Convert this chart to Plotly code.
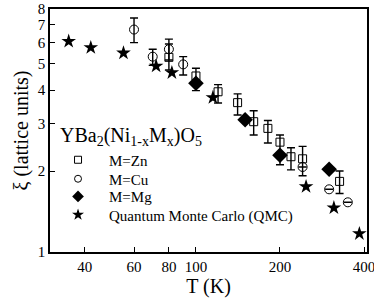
import plotly.graph_objects as go
import math

# ---- data ----
zn_T = [80, 100, 120, 141, 161, 181, 200, 219, 241, 327]
zn_xi = [5.29, 4.51, 3.94, 3.59, 3.05, 2.88, 2.56, 2.26, 2.22, 1.83]
zn_err_plus = [0.64, 0.31, 0.25, 0.28, 0.30, 0.20, 0.16, 0.18, 0.25, 0.17]
zn_err_minus = [0.54, 0.53, 0.36, 0.36, 0.33, 0.34, 0.45, 0.24, 0.30, 0.18]

cu_T = [60, 70, 80, 90, 241, 300, 350]
cu_xi = [6.71, 5.32, 5.67, 4.98, 2.07, 1.71, 1.53]
cu_err_plus = [0.70, 0.35, 0.51, 0.34, 0, 0, 0]
cu_err_minus = [0.71, 0.38, 0.50, 0.43, 0, 0, 0]

mg_T = [100, 150, 200, 300]
mg_xi = [4.24, 3.10, 2.29, 2.03]

qmc_T = [35, 42, 55, 72, 82, 115, 248, 312, 385]
qmc_xi = [6.07, 5.75, 5.49, 4.91, 4.64, 3.75, 1.75, 1.46, 1.17]

x_ticks = [40, 60, 80, 100, 200, 400]
y_ticks = [1, 2, 3, 4, 5, 6, 7, 8]

FONT = "Liberation Serif"

fig = go.Figure()

def err(plus, minus):
    return dict(type="data", symmetric=False, array=plus, arrayminus=minus,
                color="black", thickness=1.4, width=4)

fig.add_trace(go.Scatter(x=qmc_T, y=qmc_xi, mode="markers", showlegend=False,
                         marker=dict(symbol="star", size=11, color="black")))
fig.add_trace(go.Scatter(x=cu_T, y=cu_xi, mode="markers", showlegend=False,
                         error_y=err(cu_err_plus, cu_err_minus),
                         marker=dict(symbol="circle-open", size=9, color="black",
                                     line=dict(width=1))))
fig.add_trace(go.Scatter(x=zn_T, y=zn_xi, mode="markers", showlegend=False,
                         error_y=err(zn_err_plus, zn_err_minus),
                         marker=dict(symbol="square-open", size=8, color="black",
                                     line=dict(width=1))))
fig.add_trace(go.Scatter(x=mg_T, y=mg_xi, mode="markers", showlegend=False,
                         marker=dict(symbol="diamond", size=12, color="black")))

# legend entries (one legend box per entry, for exact row spacing)
legend_entries = [
    ("M=Zn", dict(symbol="square-open", size=7, color="black", line=dict(width=1)), "legend"),
    ("M=Cu", dict(symbol="circle-open", size=7, color="black", line=dict(width=1)), "legend2"),
    ("M=Mg", dict(symbol="diamond", size=9, color="black"), "legend3"),
    ("Quantum Monte Carlo (QMC)", dict(symbol="star", size=9, color="black"), "legend4"),
]
for name, mk, lg in legend_entries:
    fig.add_trace(go.Scatter(x=[None], y=[None], mode="markers", name=name,
                             marker=mk, legend=lg))

fig.add_annotation(text="YBa<sub>2</sub>(Ni<sub>1-x</sub>M<sub>x</sub>)O<sub>5</sub>",
                   xref="paper", yref="paper", x=0.026, y=0.477,
                   xanchor="left", yanchor="middle", showarrow=False,
                   font=dict(family=FONT, size=20, color="black"))

axis_common = dict(type="log", showline=True, linecolor="black", linewidth=1.5,
                   mirror=True, ticks="inside", ticklen=5, tickwidth=1.2,
                   tickcolor="black", showgrid=False, zeroline=False,
                   automargin=False, ticklabeloverflow="allow",
                   tickfont=dict(family=FONT, size=15, color="black"))

legend_rows_y = [0.3786, 0.3004, 0.2276, 0.1523]
legend_style = lambda yy: dict(x=-0.0094, y=yy, xanchor="left", yanchor="middle",
                               bgcolor="rgba(0,0,0,0)",
                               font=dict(family=FONT, size=15, color="black"),
                               itemwidth=52)

fig.update_layout(
    width=374, height=301,
    margin=dict(l=50, r=7, t=9, b=49),
    paper_bgcolor="white", plot_bgcolor="white",
    xaxis=dict(axis_common, range=[math.log10(30), math.log10(410)],
               tickvals=x_ticks, ticktext=[str(v) for v in x_ticks],
               title=dict(text="T (K)", font=dict(family=FONT, size=20, color="black"),
                          standoff=4)),
    yaxis=dict(axis_common, range=[0, math.log10(8)],
               tickvals=y_ticks, ticktext=[str(v) for v in y_ticks],
               title=dict(text="ξ (lattice units)", font=dict(family=FONT, size=20, color="black"),
                          standoff=4)),
    legend=legend_style(legend_rows_y[0]),
    legend2=legend_style(legend_rows_y[1]),
    legend3=legend_style(legend_rows_y[2]),
    legend4=legend_style(legend_rows_y[3]),
    showlegend=True,
)

fig.write_html("out.html", config={"displayModeBar": False},
               post_script="document.body.style.margin='0px';")
